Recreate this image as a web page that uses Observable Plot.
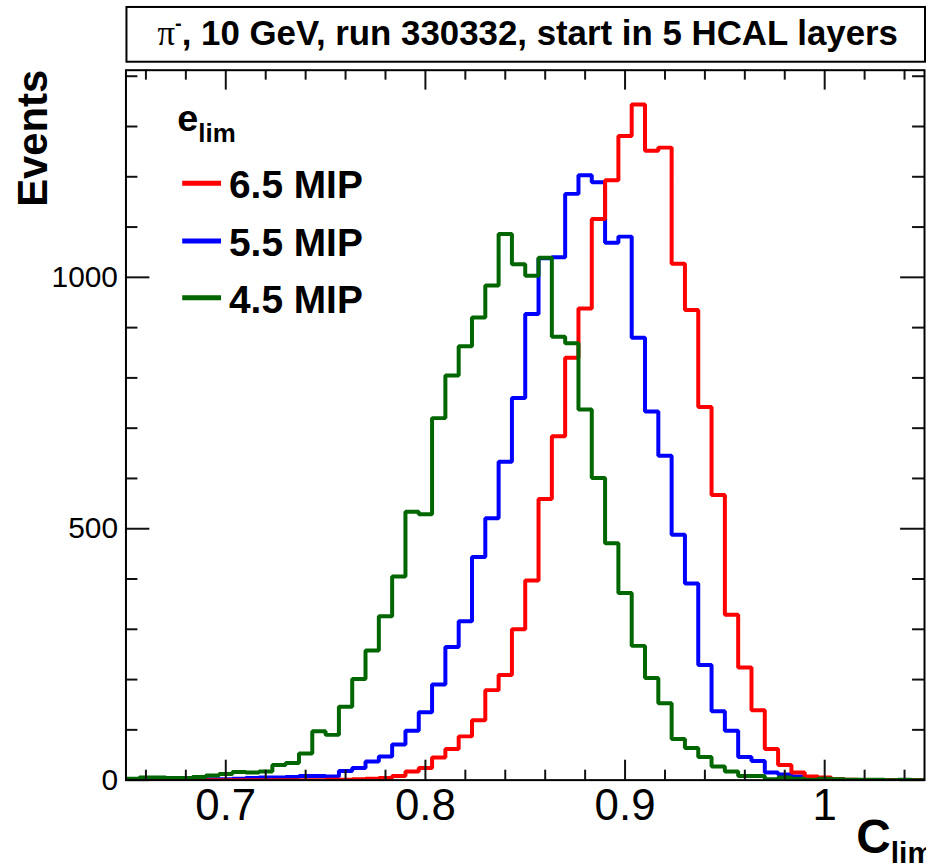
<!DOCTYPE html>
<html><head><meta charset="utf-8">
<script src="https://cdn.jsdelivr.net/npm/d3@7"></script>
<script src="https://cdn.jsdelivr.net/npm/@observablehq/plot@0.6"></script>
<style>
html,body{margin:0;padding:0;background:#fff;overflow:hidden;}
#chart{width:926px;height:867px;overflow:hidden;}
svg{display:block}
</style></head><body><div id="chart"></div>
<script>
// Histogram binning: bin width 1/150, first listed bin index 95 (bin centre = index/150)
const binWidth = 1 / 150;
const firstBin = 95;

// e_lim = 6.5 MIP (red), bins 95..159
const red65 = [0,0,0,0,0,0,0,0,0,0,0,0,0,0,0,0,0,0,
  1,1,2,3,4,8,17,24,45,62,87,119,179,209,300,397,559,684,840,938,1116,1193,1281,1344,1252,1258,1027,935,742,567,329,224,139,62,30,15,7,5,2,1,
  0,0,0,0,0,0,0];
// e_lim = 5.5 MIP (blue)
const blue55 = [0,0,0,0,0,0,1,1,1,2,2,3,4,5,5,6,8,8,7,18,24,37,47,71,98,135,190,265,316,444,521,633,760,927,1038,1040,1166,1203,1189,1069,1081,880,733,645,488,391,229,137,98,46,38,15,11,7,4,2,1,
  0,0,0,0,0,0,0,0];
// e_lim = 4.5 MIP (green)
const green45 = [2,2,2,3,5,5,4,4,6,9,12,16,15,17,30,34,53,97,90,146,201,258,326,405,534,529,720,805,863,920,984,1086,1026,1003,1039,882,869,737,601,471,372,267,203,153,82,64,46,27,17,8,8,2,5,3,1,3,2,1,1,1,0,1,0,0,0];

const seriesNames = ["6.5 MIP", "5.5 MIP", "4.5 MIP"];
const seriesColors = ["#ff0000", "#0000ff", "#006600"];

const xMajor = [0.7, 0.8, 0.9, 1.0];
const xMinor = [0.66,0.68,0.72,0.74,0.76,0.78,0.82,0.84,0.86,0.88,0.92,0.94,0.96,0.98,1.02,1.04];
const yMajor = [0, 500, 1000];
const yMinor = [100,200,300,400,600,700,800,900,1100,1200,1300,1400];

const toRows = (vals) => vals.map((v, i) => ({x: (firstBin + i) * binWidth, y: v}));
const redRows = toRows(red65), blueRows = toRows(blue55), greenRows = toRows(green45);

const W = 930, H = 867, ML = 126, MT = 70, MB = 84, MR = 2;
const FW = W - ML - MR, FH = H - MT - MB;
const FONT = "'Liberation Sans', Arial, Helvetica, sans-serif";

const histLine = (rows, color) => Plot.line(rows, {x: "x", y: "y", curve: "step", stroke: color, strokeWidth: 4, strokeLinejoin: "miter", clip: "frame"});

const plot = Plot.plot({
  width: W, height: H,
  marginLeft: ML, marginTop: MT, marginBottom: MB, marginRight: MR,
  style: {fontFamily: FONT, fontSize: "30px", background: "white", color: "black"},
  x: {domain: [0.65, 1.05]},
  y: {domain: [0, 1412]},
  marks: [
    histLine(blueRows, seriesColors[1]),
    histLine(redRows, seriesColors[0]),
    histLine(greenRows, seriesColors[2]),
    // inward ticks, bottom & top
    Plot.tickX(xMajor, {x: d => d, insetTop: FH - 20, stroke: "#111", strokeWidth: 2}),
    Plot.tickX(xMinor, {x: d => d, insetTop: FH - 10, stroke: "#111", strokeWidth: 2}),
    Plot.tickX(xMajor, {x: d => d, insetBottom: FH - 20, stroke: "#111", strokeWidth: 2}),
    Plot.tickX(xMinor, {x: d => d, insetBottom: FH - 10, stroke: "#111", strokeWidth: 2}),
    // inward ticks, left & right
    Plot.tickY(yMajor, {y: d => d, insetRight: FW - 24, stroke: "#111", strokeWidth: 2}),
    Plot.tickY(yMinor, {y: d => d, insetRight: FW - 12, stroke: "#111", strokeWidth: 2}),
    Plot.tickY(yMajor, {y: d => d, insetLeft: FW - 24, stroke: "#111", strokeWidth: 2}),
    Plot.tickY(yMinor, {y: d => d, insetLeft: FW - 12, stroke: "#111", strokeWidth: 2}),
    Plot.frame({stroke: "black", strokeWidth: 2}),
    Plot.axisX({ticks: xMajor, tickSize: 0, tickPadding: 9, fontSize: 44, tickFormat: d => String(d), label: null}),
    Plot.axisY({ticks: yMajor, tickSize: 0, tickPadding: 8, fontSize: 30, tickFormat: d => String(d), label: null})
  ]
});

const svg = d3.select(plot);
svg.attr("font-family", FONT);
svg.selectAll('g[aria-label="x-axis tick label"]').attr("font-size", 44).style("font-size", "44px");
svg.selectAll('g[aria-label="y-axis tick label"]').attr("font-size", 30).style("font-size", "30px");

// Title box
svg.append("rect").attr("x", 127).attr("y", 7).attr("width", 802).attr("height", 55)
  .attr("fill", "white").attr("stroke", "black").attr("stroke-width", 2);
const title = svg.append("text").attr("x", 530).attr("y", 45).attr("text-anchor", "middle")
  .attr("font-size", 35).attr("font-weight", "bold").attr("fill", "black");
title.append("tspan").attr("font-family", "'Liberation Serif', 'DejaVu Serif', serif").attr("font-weight", "normal").text("π");
title.append("tspan").attr("font-size", 20).attr("dy", -15).text("-");
title.append("tspan").attr("dy", 15).text(", 10 GeV, run 330332, start in 5 HCAL layers");

// Y axis title
svg.append("text").attr("transform", "translate(47,70) rotate(-90)").attr("text-anchor", "end")
  .attr("font-size", 42).attr("font-weight", "bold").text("Events");

// X axis title
const xt = svg.append("text").attr("x", 860).attr("y", 857).attr("text-anchor", "start")
  .attr("font-size", 48).attr("font-weight", "bold");
xt.append("tspan").text("C");
xt.append("tspan").attr("font-size", 30).attr("dy", 10).text("lim");

// Legend
const lg = svg.append("g").attr("font-weight", "bold").attr("text-anchor", "start");
const hdr = lg.append("text").attr("x", 178).attr("y", 132).attr("font-size", 38);
hdr.append("tspan").text("e");
hdr.append("tspan").attr("font-size", 26).attr("dy", 11).text("lim");
const rowsY = [184, 242, 299];
seriesNames.forEach((name, i) => {
  lg.append("line").attr("x1", 183).attr("x2", 222).attr("y1", rowsY[i]).attr("y2", rowsY[i])
    .attr("stroke", seriesColors[i]).attr("stroke-width", 5);
  lg.append("text").attr("x", 230).attr("y", rowsY[i] + 15).attr("font-size", 39).text(name);
});

document.getElementById("chart").appendChild(plot);
</script>
</body></html>
